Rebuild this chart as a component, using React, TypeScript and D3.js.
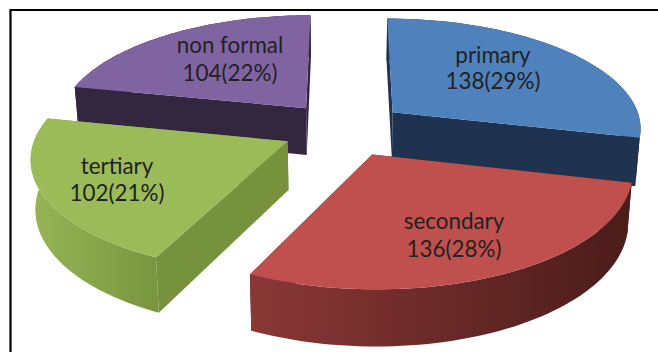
import React from "react";
import * as d3 from "d3";

const WIDTH = 658;
const HEIGHT = 352;

const categories = ["primary", "secondary", "tertiary", "non formal"];
const counts = [138, 136, 102, 104];
const shares = ["29%", "28%", "21%", "22%"];

const topColors = ["#4f81bd", "#c0504d", "#9bbb59", "#8064a2"];
const cutColors = ["#1f3350", "#4e1f1d", "#76923c", "#33263f"];
const wallStops = [
  ["#1f3350", "#1f3350"],
  ["#8a3836", "#4a1c1a"],
  ["#94b354", "#76923c"],
  ["#33263f", "#33263f"],
];
const labelAnchors: [number, number, number][] = [
  [493, 63, 89],
  [454, 229, 257],
  [117, 174, 201],
  [230, 53, 81],
];
// Painter's order: back slices first.
const paintOrder = [3, 0, 2, 1];

// Disc-to-screen projection with a mild perspective.
const CX = 344.5;
const CY = 129;
const A = 250;
const B = 110;
const K = 0.13;
const EXPLODE = 0.25;
const DEPTH = 48;
const LIFT_SHRINK = 0.985;

type Pt = [number, number];

const project = (u: number, v: number, lowered: boolean): Pt => {
  const f = 1 / (1 + K * v);
  const shrink = lowered ? LIFT_SHRINK : 1;
  return [CX + A * u * f * shrink, CY - B * v * f + (lowered ? DEPTH * f : 0)];
};

const sliceGeometry = (start: number, end: number) => {
  const mid = (start + end) / 2;
  const ox = EXPLODE * Math.sin(mid);
  const oy = EXPLODE * Math.cos(mid);
  const at = (angle: number, radius: number, lowered: boolean): Pt =>
    project(ox + radius * Math.sin(angle), oy + radius * Math.cos(angle), lowered);
  const angles = d3.range(0, 61).map((i) => start + ((end - start) * i) / 60);
  return { at, angles };
};

const line = d3.line<Pt>();

export default function App() {
  const arcs = d3.pie<number>().sort(null)(counts);
  return (
    <svg
      width={WIDTH}
      height={HEIGHT}
      style={{ position: "absolute", left: 0, top: 0, background: "#fff" }}
    >
      <defs>
        {wallStops.map((stops, i) => (
          <linearGradient key={i} id={`wall-${i}`} gradientUnits="userSpaceOnUse" x1={i === 2 ? 40 : 250} x2={i === 2 ? 170 : 630} y1={0} y2={0}>
            <stop offset="0" stopColor={stops[0]} />
            <stop offset="1" stopColor={stops[1]} />
          </linearGradient>
        ))}
      </defs>

      <path d="M10.5 352V10H658" fill="none" stroke="#000" strokeWidth={2.2} />

      {paintOrder.map((i) => {
        const { at, angles } = sliceGeometry(arcs[i].startAngle, arcs[i].endAngle);
        const rim = angles.map((a) => at(a, 1, false));
        const rimLow = angles.map((a) => at(a, 1, true));
        const apex = at(0, 0, false);
        const apexLow = at(0, 0, true);
        const cutA = [apex, rim[0], rimLow[0], apexLow] as Pt[];
        const cutB = [apex, rim[60], rimLow[60], apexLow] as Pt[];
        const wall = [...rim, ...rimLow.slice().reverse()];
        const top = [apex, ...rim];
        return (
          <g key={categories[i]}>
            <path d={line(cutA) + "Z"} fill={cutColors[i]} />
            <path d={line(cutB) + "Z"} fill={cutColors[i]} />
            <path d={line(wall) + "Z"} fill={`url(#wall-${i})`} />
            <path d={line(top) + "Z"} fill={topColors[i]} />
          </g>
        );
      })}

      {categories.map((name, i) => (
        <text
          key={name}
          textAnchor="middle"
          fontFamily="Lato, sans-serif"
          fontSize={22.4}
          fill="#222"
        >
          <tspan x={labelAnchors[i][0]} y={labelAnchors[i][1]}>{name}</tspan>
          <tspan x={labelAnchors[i][0]} y={labelAnchors[i][2]}>{`${counts[i]}(${shares[i]})`}</tspan>
        </text>
      ))}
    </svg>
  );
}
